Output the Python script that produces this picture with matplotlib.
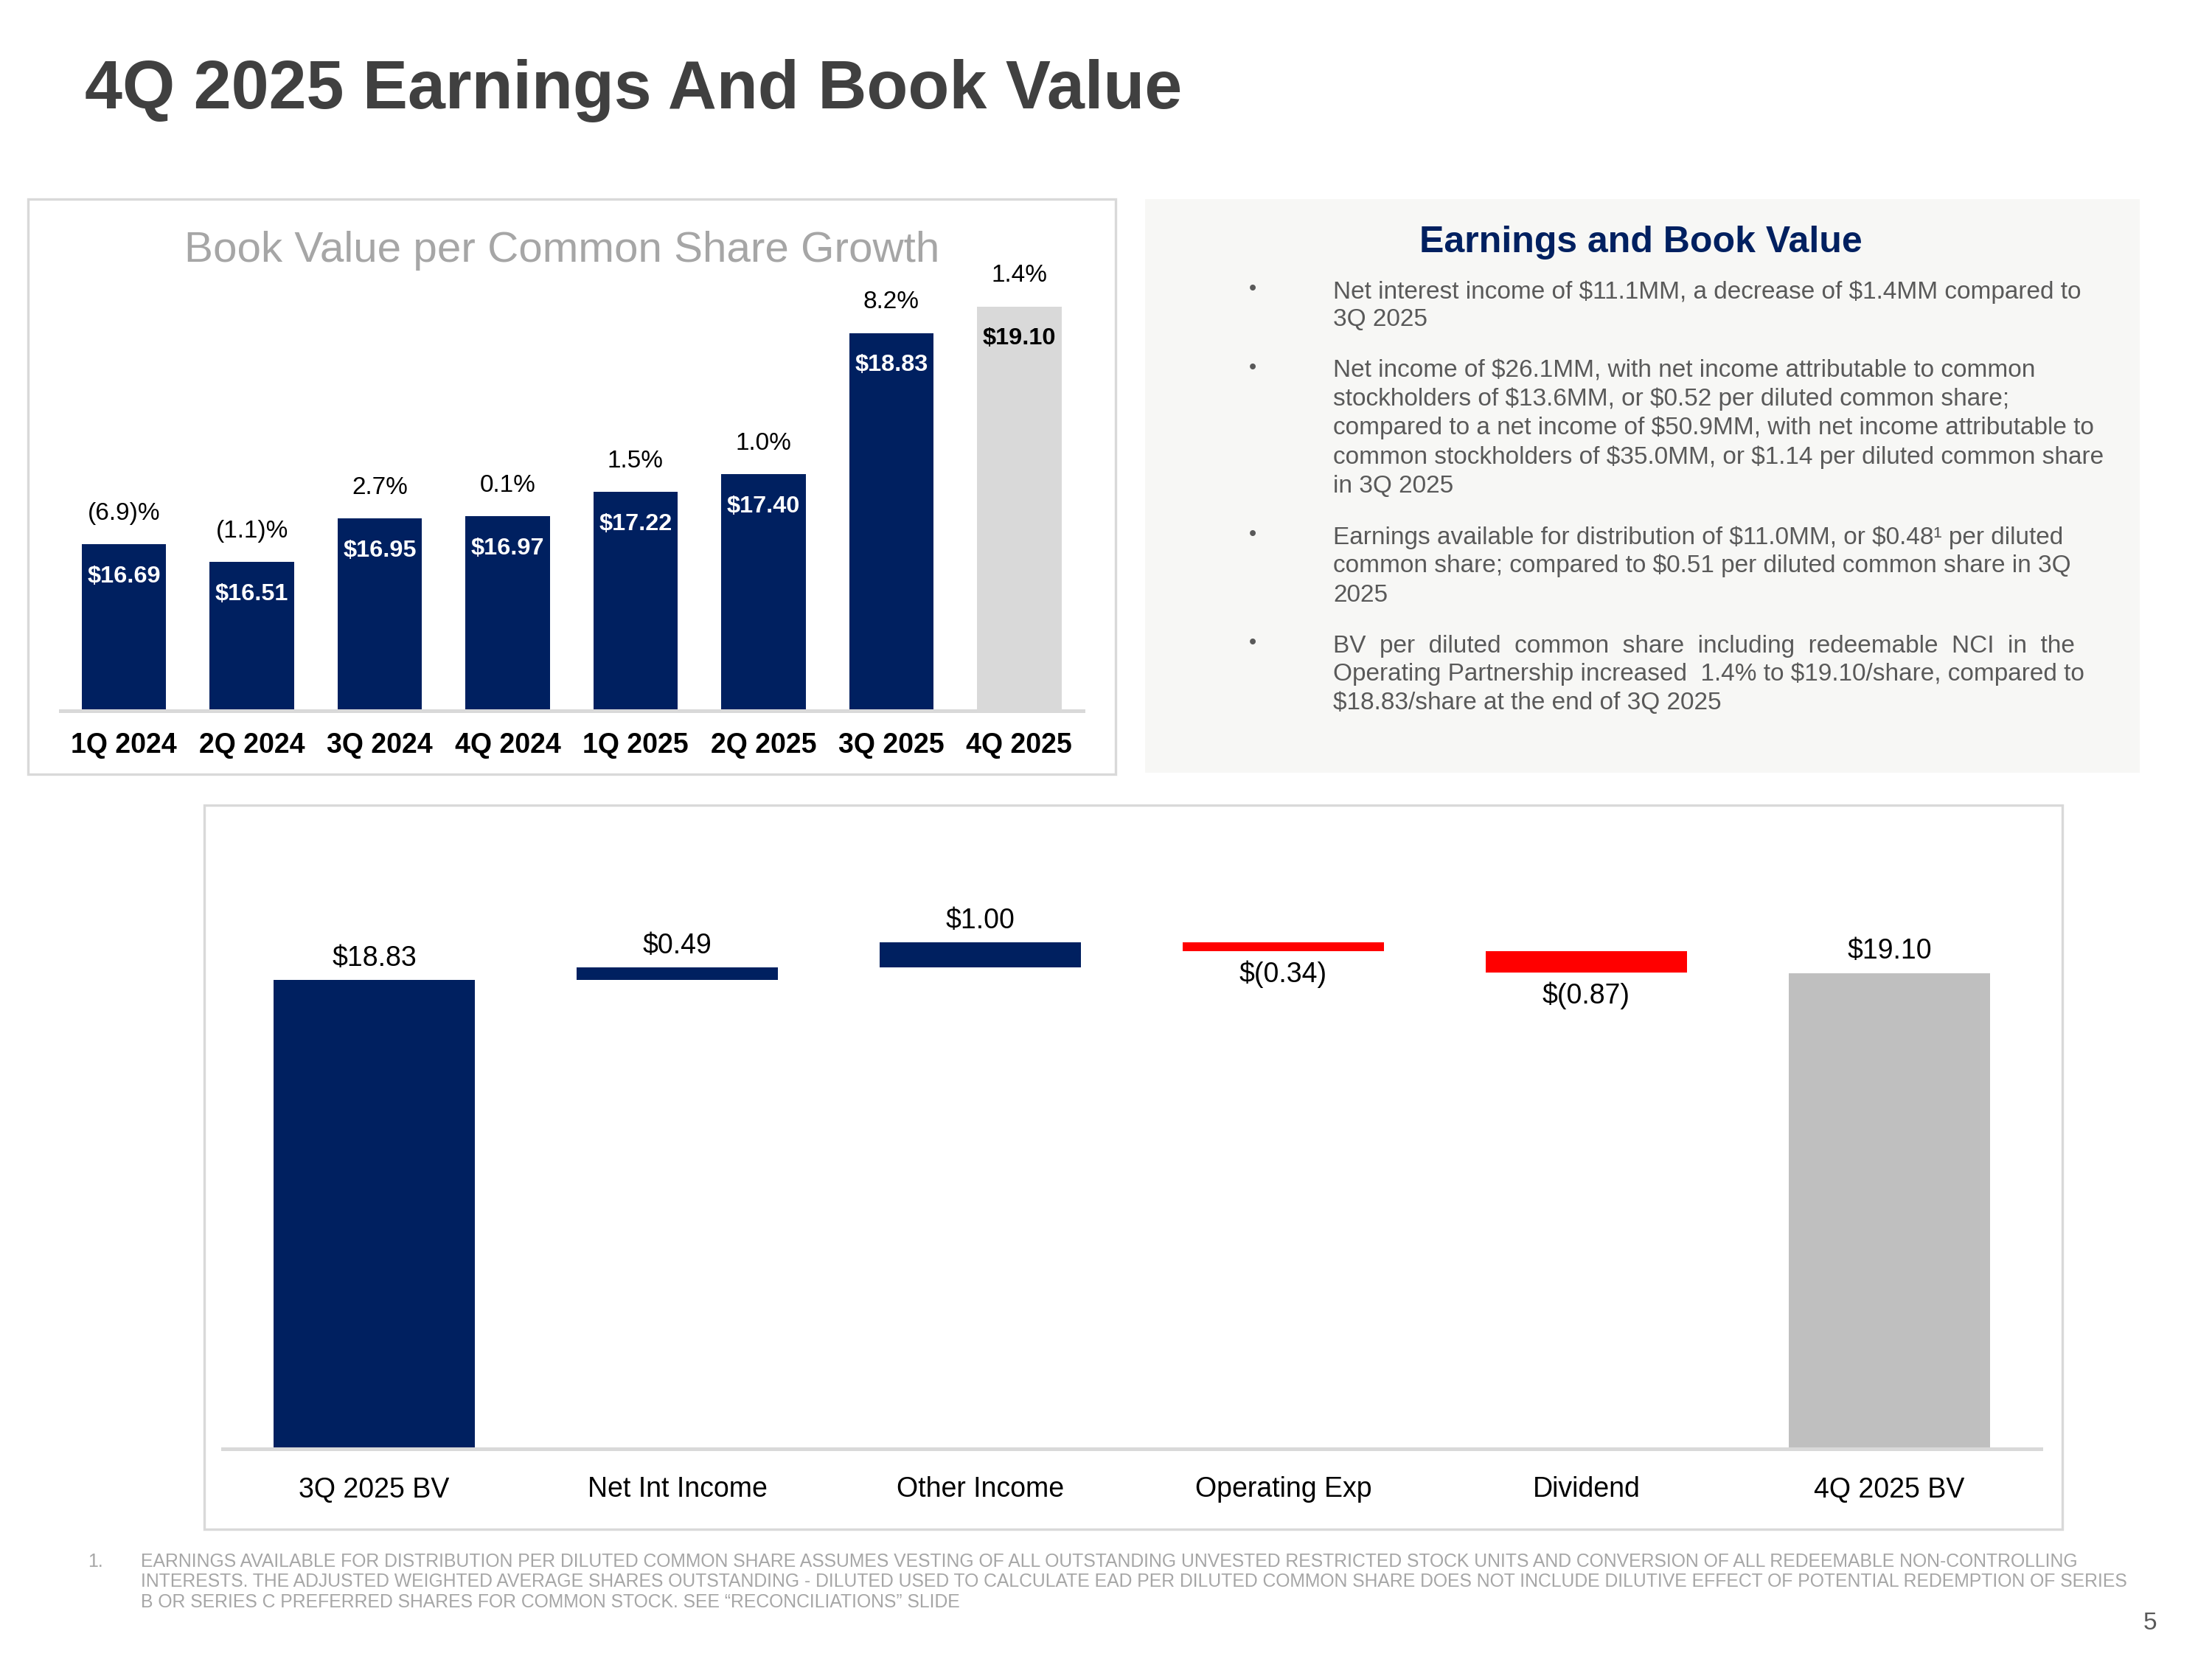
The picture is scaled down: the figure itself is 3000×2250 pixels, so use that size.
import matplotlib
matplotlib.use('Agg')
import matplotlib.pyplot as plt
from matplotlib.patches import Rectangle

plt.rcParams['font.family'] = ['Liberation Sans', 'DejaVu Sans']

# ---- data ----
quarters = ['1Q 2024', '2Q 2024', '3Q 2024', '4Q 2024', '1Q 2025', '2Q 2025', '3Q 2025', '4Q 2025']
book_value = [16.69, 16.51, 16.95, 16.97, 17.22, 17.40, 18.83, 19.10]
growth = ['(6.9)%', '(1.1)%', '2.7%', '0.1%', '1.5%', '1.0%', '8.2%', '1.4%']

steps = ['3Q 2025 BV', 'Net Int Income', 'Other Income', 'Operating Exp', 'Dividend', '4Q 2025 BV']
start_bv = 18.83
changes = [0.49, 1.00, -0.34, -0.87]
end_bv = 19.10

bullets = [
    ['Net interest income of $11.1MM, a decrease of $1.4MM compared to',
     '3Q 2025'],
    ['Net income of $26.1MM, with net income attributable to common',
     'stockholders of $13.6MM, or $0.52 per diluted common share;',
     'compared to a net income of $50.9MM, with net income attributable to',
     'common stockholders of $35.0MM, or $1.14 per diluted common share',
     'in 3Q 2025'],
    ['Earnings available for distribution of $11.0MM, or $0.48\u00b9 per diluted',
     'common share; compared to $0.51 per diluted common share in 3Q',
     '2025'],
    ['BV  per  diluted  common  share  including  redeemable  NCI  in  the',
     'Operating Partnership increased  1.4% to $19.10/share, compared to',
     '$18.83/share at the end of 3Q 2025'],
]
bullet_rows = [[396, 434], [503, 541, 580, 620, 660], [729, 767, 807], [876, 914, 953]]

footnote = [
    'EARNINGS AVAILABLE FOR DISTRIBUTION PER DILUTED COMMON SHARE ASSUMES VESTING OF ALL OUTSTANDING UNVESTED RESTRICTED STOCK UNITS AND CONVERSION OF ALL REDEEMABLE NON-CONTROLLING',
    'INTERESTS. THE ADJUSTED WEIGHTED AVERAGE SHARES OUTSTANDING - DILUTED USED TO CALCULATE EAD PER DILUTED COMMON SHARE DOES NOT INCLUDE DILUTIVE EFFECT OF POTENTIAL REDEMPTION OF SERIES',
    'B OR SERIES C PREFERRED SHARES FOR COMMON STOCK. SEE \u201cRECONCILIATIONS\u201d SLIDE',
]

NAVY = '#002060'
RED = '#FF0000'
W, H = 3000, 2250


def fx(x):
    return x / W


def fy(y):
    return 1 - y / H


def box(x0, y0, x1, y1):
    return [fx(x0), fy(y1), (x1 - x0) / W, (y1 - y0) / H]


def money(v):
    return f'${v:.2f}' if v >= 0 else f'$({-v:.2f})'


fig = plt.figure(figsize=(10, 7.5), dpi=300)
fig.patch.set_facecolor('white')

fig.text(fx(115), fy(123), '4Q 2025 Earnings And Book Value', fontsize=22,
         fontweight='bold', color='#404040', va='center')

# frames
fig.add_artist(Rectangle((fx(38), fy(1050)), (1513 - 38) / W, (1050 - 270) / H,
                         transform=fig.transFigure, fill=False, edgecolor='#D9D9D9', lw=0.8))
fig.add_artist(Rectangle((fx(1553), fy(1048)), (2902 - 1553) / W, (1048 - 270) / H,
                         transform=fig.transFigure, facecolor='#F7F7F5', edgecolor='none'))
fig.add_artist(Rectangle((fx(277), fy(2074)), (2797 - 277) / W, (2074 - 1092) / H,
                         transform=fig.transFigure, fill=False, edgecolor='#D9D9D9', lw=0.8))

# ---- book value bars ----
fig.text(fx(762), fy(340), 'Book Value per Common Share Growth', fontsize=14,
         color='#A6A6A6', ha='center', va='center')

ax1 = fig.add_axes(box(81.5, 362, 1469, 964))
colors = [NAVY] * (len(quarters) - 1) + ['#D9D9D9']
x = range(len(quarters))
ax1.bar(x, book_value, width=0.66, color=colors)
ax1.set_xlim(-0.5, len(quarters) - 0.5)
ax1.set_ylim(15, 19.5)
for s in ['top', 'left', 'right']:
    ax1.spines[s].set_visible(False)
ax1.spines['bottom'].set_color('#D9D9D9')
ax1.spines['bottom'].set_linewidth(1.2)
ax1.set_yticks([])
ax1.set_xticks(list(x))
ax1.set_xticklabels(quarters, fontsize=9, fontweight='bold')
ax1.tick_params(axis='x', length=0, pad=7)
for i, v in enumerate(book_value):
    ax1.annotate(growth[i], (i, v), xytext=(0, 10), textcoords='offset points',
                 ha='center', va='center', fontsize=8, color='black')
    ax1.annotate(money(v), (i, v), xytext=(0, -10.5), textcoords='offset points',
                 ha='center', va='center', fontsize=7.8, fontweight='bold',
                 color='black' if i == len(quarters) - 1 else 'white')

# ---- text box ----
fig.text(fx(2225), fy(329), 'Earnings and Book Value', fontsize=12, fontweight='bold',
         color=NAVY, ha='center', va='center')
for lines, rows in zip(bullets, bullet_rows):
    fig.text(fx(1699), fy(rows[0] - 4), '\u2022', fontsize=7, color='#595959',
             ha='center', va='center')
    for line, r in zip(lines, rows):
        fig.text(fx(1808), fy(r), line, fontsize=8, color='#595959', va='center',
                 parse_math=False)

# ---- waterfall ----
ax2 = fig.add_axes(box(302, 1154, 2768, 1965))
running = start_bv
bottoms, heights, wcolors = [], [], []
for c in changes:
    bottoms.append(min(running, running + c))
    heights.append(abs(c))
    wcolors.append(NAVY if c > 0 else RED)
    running += c
ax2.bar(0, start_bv, width=0.666, color=NAVY)
ax2.bar(range(1, len(changes) + 1), heights, bottom=bottoms, width=0.666, color=wcolors)
ax2.bar(len(steps) - 1, end_bv, width=0.666, color='#BFBFBF')
ax2.set_xlim(-0.5, len(steps) - 0.5)
ax2.set_ylim(0, 24)
for s in ['top', 'left', 'right']:
    ax2.spines[s].set_visible(False)
ax2.spines['bottom'].set_color('#D9D9D9')
ax2.spines['bottom'].set_linewidth(1.2)
ax2.set_yticks([])
ax2.set_xticks(range(len(steps)))
ax2.set_xticklabels(steps, fontsize=9)
ax2.tick_params(axis='x', length=0, pad=9)

ax2.annotate(money(start_bv), (0, start_bv), xytext=(0, 7), textcoords='offset points',
             ha='center', va='center', fontsize=9)
ax2.annotate(money(end_bv), (len(steps) - 1, end_bv), xytext=(0, 7), textcoords='offset points',
             ha='center', va='center', fontsize=9)
for i, c in enumerate(changes):
    if c > 0:
        ax2.annotate(money(c), (i + 1, bottoms[i] + heights[i]), xytext=(0, 7),
                     textcoords='offset points', ha='center', va='center', fontsize=9)
    else:
        ax2.annotate(money(c), (i + 1, bottoms[i]), xytext=(0, -7.5),
                     textcoords='offset points', ha='center', va='center', fontsize=9)

# ---- footnote ----
fig.text(fx(119), fy(2118), '1.', fontsize=6, color='#A6A6A6', va='center')
for line, r in zip(footnote, [2118, 2145, 2173]):
    fig.text(fx(191), fy(r), line, fontsize=5.95, color='#A6A6A6', va='center')
fig.text(fx(2916), fy(2202), '5', fontsize=8, color='#595959', ha='center', va='center')

fig.savefig('out.png', dpi=300)
